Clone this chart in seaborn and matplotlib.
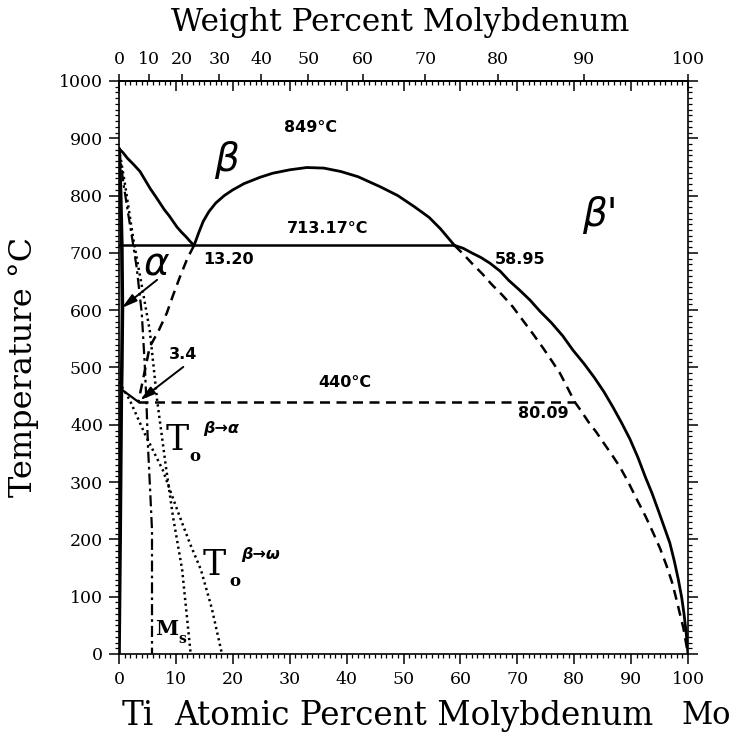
import numpy as np
import matplotlib
matplotlib.use("Agg")
import matplotlib.pyplot as plt
import seaborn as sns
from matplotlib.ticker import MultipleLocator, FixedLocator, NullFormatter

# ---------------- data (atomic % Mo, temperature in deg C) ----------------
beta_transus_at = [0, 0.7, 1.5, 2.6, 3.7, 4.6, 5.5, 6.4, 7.2, 8.0, 8.8, 9.5, 10.2, 11.0, 11.8, 12.5, 13.2]
beta_transus_T = [882, 875, 865, 854, 842, 827, 812, 799, 787, 775, 765, 755, 745, 736, 728, 720, 713.17]

alpha_bound_at = [0, 0.3, 0.5, 0.6, 0.5, 0.4, 0.2, 0]
alpha_bound_T = [882, 800, 713, 600, 500, 440, 200, 0]

dome_at = [13.2, 14.0, 14.8, 15.8, 17, 18.5, 20, 22, 24.8, 27, 30, 33, 36, 39, 42, 46, 49, 52, 54.5, 56.5, 58.95]
dome_T = [713.17, 735, 755, 772, 787, 800, 810, 821, 832, 839, 845, 849, 848, 842, 833, 815, 800, 780, 762, 742, 713.17]

betap_at = [58.95, 60.5, 62, 63.6, 65.2, 67, 68.5, 70.3, 72.2, 74, 76, 78, 79.8, 81.7, 83.5, 85.2,
            86.8, 88.3, 89.8, 91.2, 92.5, 93.7, 94.8, 95.8, 96.8, 97.6, 98.3, 98.9, 99.3, 99.7, 100]
betap_T = [713.17, 708, 700, 692, 682, 668, 652, 636, 618, 598, 578, 555, 530, 507, 483, 458,
           431, 404, 375, 343, 309, 280, 250, 222, 194, 162, 130, 98, 70, 35, 0]

meta_right_at = [58.95, 60.5, 62, 63.8, 65.5, 67.4, 69.2, 71, 72.8, 74.6, 76.3, 77.5, 78.8, 80.09,
                 81.3, 82.5, 83.9, 85.2, 86.6, 88, 89.5, 91, 92.5, 93.9, 95.1, 96.2, 97.2, 98,
                 98.7, 99.2, 99.6, 100]
meta_right_T = [713.17, 698, 682, 664, 645, 626, 606, 582, 558, 533, 508, 490, 465, 440,
                423, 405, 387, 368, 348, 327, 300, 270, 241, 211, 184, 155, 125, 94,
                65, 45, 22, 0]

meta_left_at = [13.2, 12, 10.7, 9.5, 8.4, 7, 5.4, 4.2, 3.4]
meta_left_T = [713.17, 690, 658, 626, 595, 565, 536, 478, 440]

short_at = [0.4, 3.4]
short_T = [462, 440]

monotectoid_at = [0, 58.95]
monotectoid_T = [713.17, 713.17]
meta_mono_at = [3.4, 80.09]
meta_mono_T = [440, 440]

ms_at = [0, 0.8, 1.6, 2.4, 3.1, 4.0, 4.5, 4.8, 5.1, 5.5, 5.8, 5.8]
ms_T = [882, 820, 769, 720, 675, 595, 510, 445, 361, 280, 216, 0]

t0_alpha_at = [0, 1.05, 2.5, 4.2, 5.4, 6.0, 6.7, 8.2, 9.5, 11.1, 12.6]
t0_alpha_T = [882, 820, 725, 632, 565, 509, 443, 330, 239, 147, 0]

t0_omega_at = [0, 1.9, 4.5, 7.7, 9.0, 10.7, 12.5, 14.4, 16.3, 18.1]
t0_omega_T = [475, 443, 385, 321, 285, 239, 192, 147, 80, 0]

bottom_ticks = list(range(0, 101, 10))
left_ticks = list(range(0, 1001, 100))
top_ticks_wt = list(range(0, 101, 10))

M_MO, M_TI = 95.95, 47.87


def at2wt(a):
    a = np.asarray(a, dtype=float)
    return 100 * a * M_MO / (a * M_MO + (100 - a) * M_TI)


def wt2at(w):
    w = np.asarray(w, dtype=float)
    return 100 * (w / M_MO) / (w / M_MO + (100 - w) / M_TI)


# ---------------- figure ----------------
sns.set_style("ticks")
plt.rcParams['font.family'] = ['DejaVu Serif']
plt.rcParams['text.color'] = 'black'
plt.rcParams['axes.labelcolor'] = 'black'
plt.rcParams['xtick.color'] = 'black'
plt.rcParams['ytick.color'] = 'black'
plt.rcParams['axes.edgecolor'] = 'black'

fig = plt.figure(figsize=(7.34, 7.32), dpi=100)
ax = fig.add_axes([119 / 734, 78 / 732, 569 / 734, 573 / 732])


def draw(x, y, ls='-', lw=1.9):
    sns.lineplot(x=x, y=y, sort=False, estimator=None, color='black',
                 linewidth=lw, linestyle=ls, ax=ax)


dashed = (0, (4.0, 2.6))
dashdot = (0, (5.0, 1.8, 1.2, 1.8))
dotted = (0, (0.9, 1.4))

draw(beta_transus_at, beta_transus_T, '-', 2.0)
draw(alpha_bound_at, alpha_bound_T, '-', 2.6)
draw(dome_at, dome_T, '-', 2.0)
draw(betap_at, betap_T, '-', 2.0)
draw(monotectoid_at, monotectoid_T, '-', 1.8)
draw(meta_right_at, meta_right_T, dashed, 1.8)
draw(meta_left_at, meta_left_T, dashed, 1.8)
draw(meta_mono_at, meta_mono_T, dashed, 1.8)
draw(short_at, short_T, '-', 1.6)
draw(ms_at, ms_T, dashdot, 1.6)
draw(t0_alpha_at, t0_alpha_T, dotted, 1.8)
draw(t0_omega_at, t0_omega_T, dotted, 1.8)

ax.set_xlim(0, 100)
ax.set_ylim(0, 1000)
ax.set_xlabel('')
ax.set_ylabel('')

for s in ax.spines.values():
    s.set_linewidth(1.2)
    s.set_visible(True)
    s.set_color('black')

ax.xaxis.set_major_locator(FixedLocator(bottom_ticks))
ax.xaxis.set_minor_locator(MultipleLocator(1))
ax.yaxis.set_major_locator(FixedLocator(left_ticks))
ax.yaxis.set_minor_locator(MultipleLocator(10))
ax.tick_params(axis='both', which='major', direction='out', length=7.5,
               width=1.1, labelsize=12.5, color='black', labelcolor='black')
ax.tick_params(axis='both', which='minor', direction='out', length=3,
               width=0.9, color='black')
ax.tick_params(axis='y', which='both', right=True, labelright=False)
ax.tick_params(axis='x', which='both', top=False, pad=5)
ax.tick_params(axis='y', which='major', pad=4)

# inward at% ticks on the top edge
sec_in = ax.secondary_xaxis('top')
sec_in.xaxis.set_major_locator(FixedLocator(bottom_ticks))
sec_in.xaxis.set_minor_locator(MultipleLocator(1))
sec_in.xaxis.set_major_formatter(NullFormatter())
sec_in.tick_params(which='major', direction='in', length=7, width=1.1, color='black')
sec_in.tick_params(which='minor', direction='in', length=3, width=0.9, color='black')
sec_in.spines['top'].set_linewidth(1.2)

# weight percent scale on top
sec_wt = ax.secondary_xaxis('top', functions=(at2wt, wt2at))
sec_wt.xaxis.set_major_locator(FixedLocator(top_ticks_wt))
sec_wt.xaxis.set_minor_locator(FixedLocator([]))
sec_wt.tick_params(which='major', direction='out', length=5, width=1.1,
                   labelsize=12.5, pad=4, color='black', labelcolor='black')
sec_wt.spines['top'].set_linewidth(1.2)

# axis titles
fig.text(400 / 734, 1 - 22 / 732, 'Weight Percent Molybdenum', ha='center',
         va='center', fontsize=22.5, color='black')
fig.text(24 / 734, 1 - 367 / 732, 'Temperature °C', ha='center', va='center',
         rotation=90, fontsize=23, color='black')
fig.text(414 / 734, 1 - 716 / 732, 'Atomic Percent Molybdenum', ha='center',
         va='center', fontsize=23.5, color='black')
fig.text(122 / 734, 1 - 716 / 732, 'Ti', ha='left', va='center', fontsize=23.5,
         color='black')
fig.text(731 / 734, 1 - 716 / 732, 'Mo', ha='right', va='center', fontsize=22,
         color='black')

# annotations
sans_b = dict(family='DejaVu Sans', fontweight='bold', fontsize=11.5,
              ha='center', va='center', color='black')
ax.text(33.6, 918, '849°C', **sans_b)
ax.text(36.7, 743, '713.17°C', **sans_b)
ax.text(19.2, 688, '13.20', **sans_b)
ax.text(70.5, 688, '58.95', **sans_b)
ax.text(39.7, 473, '440°C', **sans_b)
ax.text(74.5, 419, '80.09', **sans_b)
ax.text(11.3, 522, '3.4', **sans_b)

greek = dict(family='DejaVu Sans', fontstyle='italic', ha='center',
             va='center', color='black')
ax.text(18.8, 862, 'β', fontsize=28, **greek)
ax.text(84.5, 766, "β'", fontsize=28, **greek)
ax.text(6.7, 679, 'α', fontsize=28, **greek)

serif = dict(family='DejaVu Serif', ha='center', va='center', color='black')
ax.text(10.2, 373, 'T', fontsize=25, **serif)
ax.text(13.3, 345, 'o', fontsize=12, fontweight='bold', **serif)
ax.text(17.9, 393, 'β→α', fontsize=11.5, family='DejaVu Sans',
        fontweight='bold', fontstyle='italic', ha='center', va='center',
        color='black')
ax.text(16.7, 155, 'T', fontsize=25, **serif)
ax.text(20.3, 127, 'o', fontsize=12, fontweight='bold', **serif)
ax.text(24.8, 173, 'β→ω', fontsize=11.5, family='DejaVu Sans',
        fontweight='bold', fontstyle='italic', ha='center', va='center',
        color='black')
ax.text(8.3, 44, 'M', fontsize=15, fontweight='bold', **serif)
ax.text(11.1, 26, 's', fontsize=10, fontweight='bold', **serif)

arrow = dict(arrowstyle='-|>,head_length=0.9,head_width=0.25', color='black',
             lw=1.4, shrinkA=0, shrinkB=0)
ax.annotate('', xy=(0.5, 604), xytext=(6.7, 653), arrowprops=arrow)
ax.annotate('', xy=(3.7, 443), xytext=(11.3, 501), arrowprops=arrow)

fig.savefig('out.png', dpi=100)
